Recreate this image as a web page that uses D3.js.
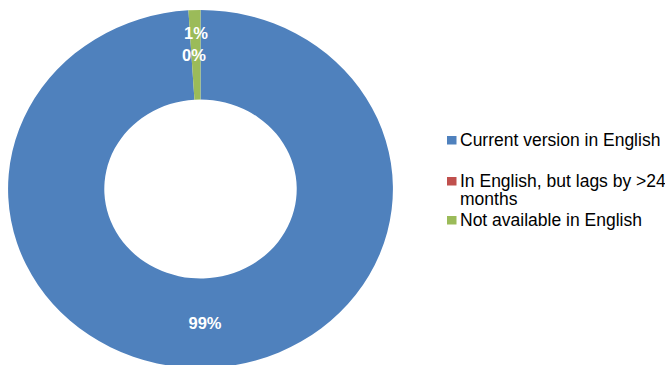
<!DOCTYPE html>
<html>
<head>
<meta charset="utf-8">
<script src="https://cdn.jsdelivr.net/npm/d3@7"></script>
<style>
  html, body { margin: 0; padding: 0; background: #fff; }
  svg { display: block; }
</style>
</head>
<body>
<svg id="chart" width="665" height="365"></svg>
<script>
const categories = ["Current version in English", "In English, but lags by >24 months", "Not available in English"];
const values = [99, 0, 1];
const colors = ["#4F81BD", "#C0504D", "#9BBB59"];
const legendLines = [["Current version in English"], ["In English, but lags by >24", "months"], ["Not available in English"]];

const svg = d3.select("#chart");

// Donut is drawn slightly wider than tall
const stretchX = 1.075;
const cx = 200.5, cy = 189;
const outerR = 179, innerR = 89.5;

const pie = d3.pie().sort(null).value(d => d.value).startAngle(0).endAngle(2 * Math.PI);
const data = pie(categories.map((c, i) => ({ name: c, value: values[i], color: colors[i] })));
const arc = d3.arc().innerRadius(innerR).outerRadius(outerR);

svg.append("g")
  .attr("transform", `translate(${cx},${cy}) scale(${stretchX},1)`)
  .selectAll("path")
  .data(data)
  .join("path")
  .attr("d", arc)
  .attr("fill", d => d.data.color);

// Percent labels at slice centroids, nudged upward where they would collide
const pct = d3.format(".0%");
const total = d3.sum(values);
const labels = data.map(d => {
  const [x, y] = arc.centroid(d);
  return { text: pct(d.data.value / total), x: cx + x * stretchX, y: cy + y };
});
for (let i = 0; i < labels.length; i++) {
  for (let j = 0; j < i; j++) {
    const a = labels[i], b = labels[j];
    if (Math.abs(a.x - b.x) < 30 && Math.abs(a.y - b.y) < 22) {
      a.y = b.y - 21.5;
      b.x += 2.5;
    }
  }
}
svg.append("g")
  .selectAll("text")
  .data(labels)
  .join("text")
  .attr("x", d => d.x)
  .attr("y", d => d.y)
  .attr("dy", "0.36em")
  .attr("text-anchor", "middle")
  .attr("font-family", "'Liberation Sans', Arial, sans-serif")
  .attr("font-weight", "bold")
  .attr("font-size", 16.5)
  .attr("fill", "#fff")
  .text(d => d.text);

// Legend
const legendX = 447, textX = 460;
const baselines = [145.5, 186.5, 225.5];
const lineH = 18;
const legend = svg.append("g")
  .attr("font-family", "'Liberation Sans', Arial, sans-serif")
  .attr("font-size", 17.5)
  .attr("fill", "#000");
legendLines.forEach((lines, i) => {
  legend.append("rect")
    .attr("x", legendX)
    .attr("y", baselines[i] - 9.5)
    .attr("width", 9.5)
    .attr("height", 8.5)
    .attr("fill", colors[i]);
  const t = legend.append("text").attr("x", textX).attr("y", baselines[i]);
  lines.forEach((ln, k) => {
    t.append("tspan").attr("x", textX).attr("dy", k === 0 ? 0 : lineH).text(ln);
  });
});
</script>
</body>
</html>
